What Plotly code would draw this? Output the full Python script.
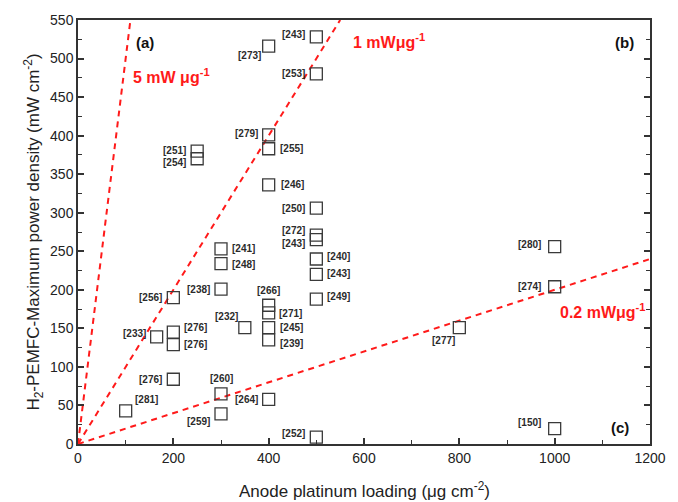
import plotly.graph_objects as go

# Data: anode Pt loading (ug cm-2), max power density (mW cm-2), reference labels
loading = [500, 400, 500, 400, 400, 250, 250, 400, 500, 500, 500, 500, 500, 500,
           300, 300, 300, 200, 400, 400, 350, 400, 400, 200, 200, 165, 200,
           300, 300, 400, 100, 500, 800, 1000, 1000, 1000]
power = [528, 516, 480, 401, 383, 380, 370, 336, 306, 271, 265, 240, 220, 188,
         253, 234, 201, 190, 180, 170, 151, 151, 135, 145, 129, 139, 84,
         65, 39, 58, 43, 9, 151, 256, 204, 20]
refs = ["[243]", "[273]", "[253]", "[279]", "[255]", "[251]", "[254]", "[246]",
        "[250]", "[272]", "[243]", "[240]", "[243]", "[249]",
        "[241]", "[248]", "[238]", "[256]", "[266]", "[271]", "[232]", "[245]",
        "[239]", "[276]", "[276]", "[233]", "[276]",
        "[260]", "[259]", "[264]", "[281]", "[252]", "[277]", "[280]", "[274]", "[150]"]

# label placement (x shift px, y shift px, anchor)
label_pos = [(-9, 2, "right"), (-6, -9, "right"), (-9, 0, "right"), (-9, 1, "right"),
             (9, 0, "left"), (-9, 1, "right"), (-9, -4, "right"), (10, 0, "left"),
             (-9, 0, "right"), (-9, 5, "right"), (-9, -4, "right"), (9, 2, "left"),
             (9, 1, "left"), (9, 3, "left"),
             (9, 0, "left"), (9, -1, "left"), (-9, 0, "right"), (-9, 0, "right"),
             (0, 15, "center"), (8, -1, "left"), (-18, 11, "center"), (9, 0, "left"),
             (9, -4, "left"), (9, 5, "left"), (9, 0, "left"), (-9, 3, "right"),
             (-9, 0, "right"),
             (0, 15, "center"), (-9, -8, "right"), (-9, 0, "right"), (7, 11, "left"),
             (-9, 4, "right"), (-16, -13, "center"), (-12, 2, "right"), (-12, 0, "right"),
             (-12, 6, "right")]

# Specific power lines (mW per ug)
slopes = [5, 1, 0.2]
slope_labels = ["5 mW \u03bcg<sup>-1</sup>", "1 mW\u03bcg<sup>-1</sup>", "0.2 mW\u03bcg<sup>-1</sup>"]
slope_label_xy = [(197, 478), (652, 523), (1102, 172)]

x_max, y_max = 1200, 550

fig = go.Figure()

for s in slopes:
    x_end = min(x_max, y_max / s)
    fig.add_trace(go.Scatter(x=[0, x_end], y=[0, s * x_end], mode="lines",
                             line=dict(color="#ff1a1a", width=2, dash="6px,5px"),
                             hoverinfo="skip", showlegend=False))

fig.add_trace(go.Scatter(x=loading, y=power, mode="markers",
                         marker=dict(symbol="square-open", size=12, color="#3a3a3a",
                                     line=dict(width=1.3, color="#3a3a3a")),
                         showlegend=False))

for xv, yv, r, (dx, dy, anc) in zip(loading, power, refs, label_pos):
    fig.add_annotation(x=xv, y=yv, text=r, showarrow=False, xanchor=anc, yanchor="middle",
                       xshift=dx, yshift=dy,
                       font=dict(family="Liberation Sans, Arial", size=10, color="#2b2b2b",
                                 weight="bold"))

for (lx, ly), t in zip(slope_label_xy, slope_labels):
    fig.add_annotation(x=lx, y=ly, text=t, showarrow=False, xanchor="center", yanchor="middle",
                       font=dict(family="Liberation Sans, Arial", size=16, color="#ff1a1a",
                                 weight="bold"))

panel_labels = [("(a)", 0.118, 0.948), ("(b)", 0.955, 0.946), ("(c)", 0.948, 0.04)]
for t, px, py in panel_labels:
    fig.add_annotation(x=px, y=py, xref="paper", yref="paper", text=t, showarrow=False,
                       xanchor="center", yanchor="middle",
                       font=dict(family="Liberation Sans, Arial", size=15, color="#111",
                                 weight="bold"))

# x-axis title as a paper annotation for exact placement
fig.add_annotation(x=0.5, y=-0.108, xref="paper", yref="paper",
                   text="Anode platinum loading (\u03bcg cm<sup>-2</sup>)", showarrow=False,
                   xanchor="center", yanchor="middle",
                   font=dict(family="Liberation Sans, Arial", size=17, color="#222"))

axis_common = dict(showgrid=False, zeroline=False, showline=True, linecolor="#333",
                   linewidth=1.5, ticks="inside", tickcolor="#333", tickwidth=1.5,
                   ticklen=6, tickfont=dict(family="Liberation Sans, Arial", size=14,
                                            color="#222"))

fig.update_xaxes(range=[0, x_max], dtick=200, mirror=True,
                 minor=dict(dtick=100, ticks="inside", ticklen=4, tickcolor="#333",
                            tickwidth=1.2),
                 **axis_common)
fig.update_yaxes(range=[0, y_max], dtick=50, mirror="ticks",
                 minor=dict(dtick=25, ticks="inside", ticklen=4, tickcolor="#333",
                            tickwidth=1.2),
                 title=dict(text="H<sub>2</sub>-PEMFC-Maximum power density (mW cm<sup>-2</sup>)",
                            font=dict(family="Liberation Sans, Arial", size=17, color="#222"),
                            standoff=6),
                 **axis_common)

fig.update_layout(width=678, height=502, margin=dict(l=78, r=17, t=17, b=58),
                  plot_bgcolor="white", paper_bgcolor="white")

fig.write_html("out.html")
